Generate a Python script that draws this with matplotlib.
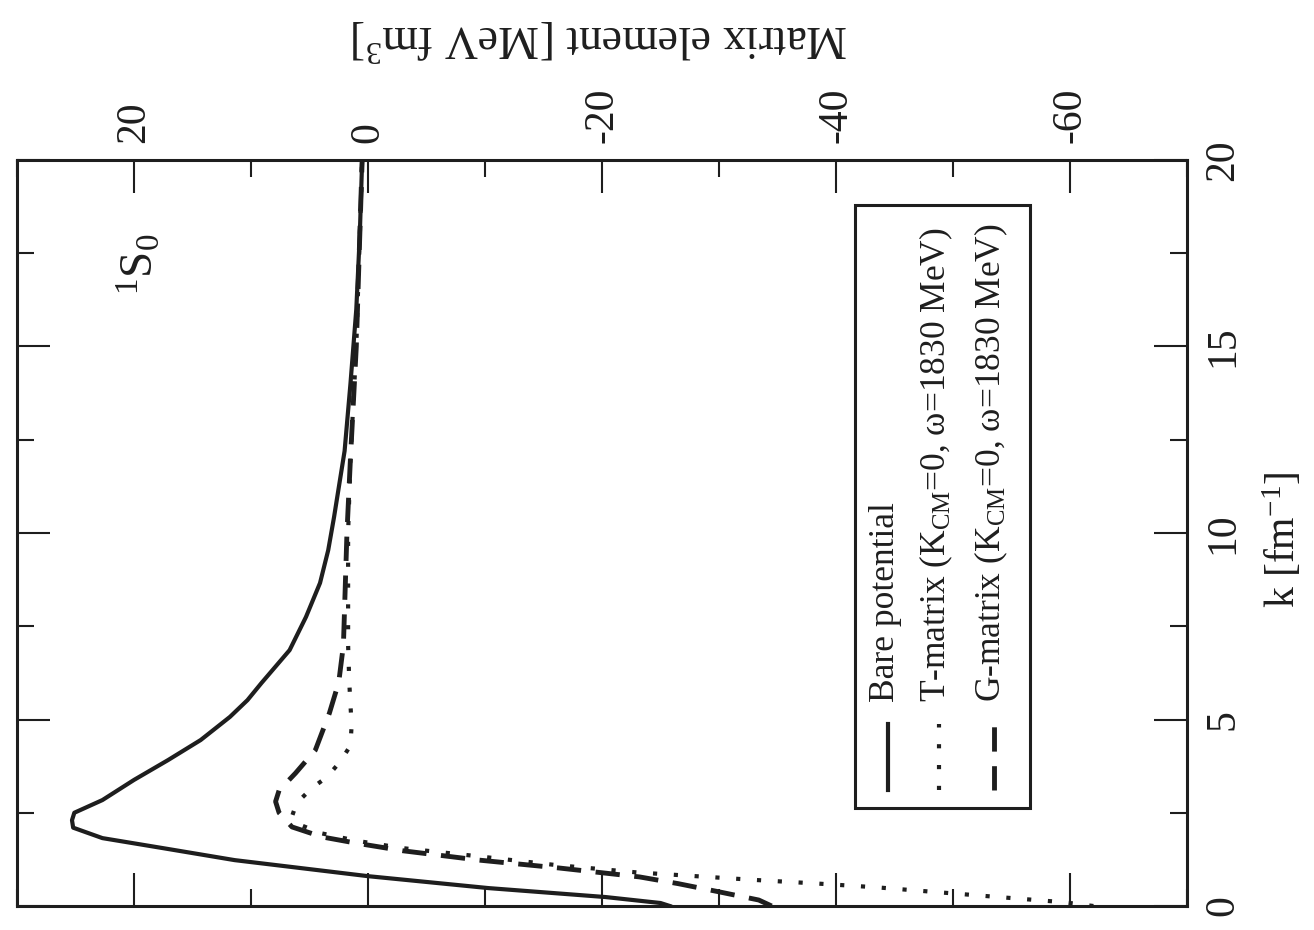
import matplotlib
matplotlib.use("Agg")
import matplotlib.pyplot as plt
from matplotlib.lines import Line2D
from matplotlib.patches import Rectangle
from matplotlib.ticker import MultipleLocator

plt.rcParams['font.family'] = ['Liberation Serif', 'DejaVu Serif']
plt.rcParams['mathtext.fontset'] = 'custom'
plt.rcParams['mathtext.rm'] = 'Liberation Serif'
plt.rcParams['mathtext.it'] = 'Liberation Serif:italic'
plt.rcParams['mathtext.bf'] = 'Liberation Serif:bold'
plt.rcParams['axes.unicode_minus'] = False

# ---- data (k in fm^-1, matrix element in MeV fm^3) ----
k_bare = [0.0, 0.08, 0.24, 0.48, 0.80, 1.23, 1.55, 1.82, 2.1, 2.3, 2.5, 2.84, 3.38, 3.91,
          4.45, 5.07, 5.52, 5.98, 6.86, 7.75, 8.66, 9.54, 10.43, 12.2, 14.0, 16.0, 18.0, 20.0]
m_bare = [-25.8, -25.0, -20.3, -10.3, 0.0, 11.4, 17.5, 22.7, 25.2, 25.3, 25.1, 22.7, 20.0, 17.1,
          14.3, 11.8, 10.3, 9.1, 6.7, 5.3, 4.1, 3.4, 2.9, 2.0, 1.5, 1.0, 0.7, 0.5]

k_T = [0.0, 0.1, 0.2, 0.3, 0.4, 0.5, 0.6, 0.7, 0.8, 0.9, 1.1, 1.33, 1.55, 1.75, 1.95, 2.2,
       2.4, 2.76, 3.16, 3.46, 3.86, 4.3, 4.85, 5.4, 6.0, 7.0, 8.0, 10.0, 12.0, 15.0, 20.0]
m_T = [-62.0, -59.5, -55.5, -51.5, -47.5, -43.5, -38.5, -33.0, -28.0, -23.0, -16.0, -9.5, -3.0,
       1.0, 4.0, 6.0, 6.5, 6.1, 4.8, 3.5, 2.4, 1.5, 1.4, 1.5, 1.6, 1.7, 1.7, 1.7, 1.5, 1.0, 0.5]

k_G = [0.0, 0.16, 0.38, 0.6, 0.78, 1.02, 1.23, 1.48, 1.69, 1.85, 2.12, 2.5, 2.8, 3.1, 3.56,
       4.18, 5.17, 6.0, 7.0, 8.0, 10.0, 12.0, 15.0, 20.0]
m_G = [-34.5, -33.4, -30.0, -26.5, -23.2, -16.3, -9.5, -3.0, 1.1, 3.9, 6.5, 7.6, 7.9, 7.6, 6.2,
       4.5, 3.3, 2.5, 2.1, 2.0, 1.8, 1.5, 1.0, 0.5]

m_ticks = [20, 0, -20, -40, -60]
k_ticks = [0, 5, 10, 15, 20]
legend_labels = ["Bare potential",
                 r"T-matrix (K$_{\rm CM}$=0, ω=1830 MeV)",
                 r"G-matrix (K$_{\rm CM}$=0, ω=1830 MeV)"]

INK = '#1e1e1e'
W, H = 1314, 930
fig = plt.figure(figsize=(W / 100, H / 100), dpi=100)
L, R, B, T = 17, 1187, 906, 160
ax = fig.add_axes([L / W, 1 - B / H, (R - L) / W, (B - T) / H])

lw = 3.0
ax.plot(m_bare, k_bare, color=INK, lw=lw)
ax.plot(m_T, k_T, color=INK, lw=lw, linestyle=(0, (1, 4)), dash_capstyle='butt')
ax.plot(m_G, k_G, color=INK, lw=lw + 0.5, linestyle=(0, (5, 3)))

ax.set_xlim(30, -70)
ax.set_ylim(0, 20)

ax.xaxis.set_minor_locator(MultipleLocator(10))
ax.yaxis.set_minor_locator(MultipleLocator(2.5))
ax.set_xticks(m_ticks)
ax.set_xticklabels([str(v) for v in m_ticks])
ax.set_yticks(k_ticks)
ax.set_yticklabels([str(v) for v in k_ticks])

ax.tick_params(axis='both', which='both', direction='in', top=True, bottom=True,
               left=True, right=True, width=1.5, color=INK)
ax.tick_params(axis='both', which='major', length=24)
ax.tick_params(axis='both', which='minor', length=12)
ax.tick_params(axis='x', labeltop=True, labelbottom=False, labelrotation=90,
               labelsize=30, pad=12, labelcolor=INK)
ax.tick_params(axis='y', labelright=True, labelleft=False, labelrotation=90,
               labelsize=30, pad=12, labelcolor=INK)
for lab in ax.get_yticklabels():
    lab.set_verticalalignment('center')

for sp in ax.spines.values():
    sp.set_linewidth(2.2)
    sp.set_color(INK)

# axis labels (rotated as in the reference)
fig.text(600 / W, 1 - 38 / H, r"Matrix element [MeV fm$^3$]", rotation=180,
         ha='center', va='center', fontsize=33, color=INK)
fig.text(1283 / W, 1 - 540 / H, r"k [fm$^{-1}$]", rotation=90,
         ha='center', va='center', fontsize=30, color=INK)

# channel label
ax.text(0.105, 0.86, r"$^1$S$_0$", transform=ax.transAxes, rotation=90,
        ha='center', va='center', fontsize=34, color=INK)

# hand-made rotated legend
def fx(px):
    return (px - L) / (R - L)

def fy(py):
    return (B - py) / (B - T)

ax.add_patch(Rectangle((fx(855), fy(808)), fx(1030) - fx(855), fy(205) - fy(808),
                       transform=ax.transAxes, fill=False, lw=2.2, ec=INK, zorder=5))
styles = [dict(lw=lw, linestyle='-'),
          dict(lw=lw, linestyle=(0, (1, 4))),
          dict(lw=lw + 0.5, linestyle=(0, (5, 3)))]
xs = [888, 939, 994]
for x, st, lab in zip(xs, styles, legend_labels):
    ax.add_line(Line2D([fx(x), fx(x)], [fy(790), fy(724)], transform=ax.transAxes,
                       color=INK, **st))
    ax.text(fx(x - 3), fy(702), lab, transform=ax.transAxes, rotation=90,
            ha='center', va='bottom', fontsize=25.5, color=INK)

fig.savefig("out.png", dpi=100)
